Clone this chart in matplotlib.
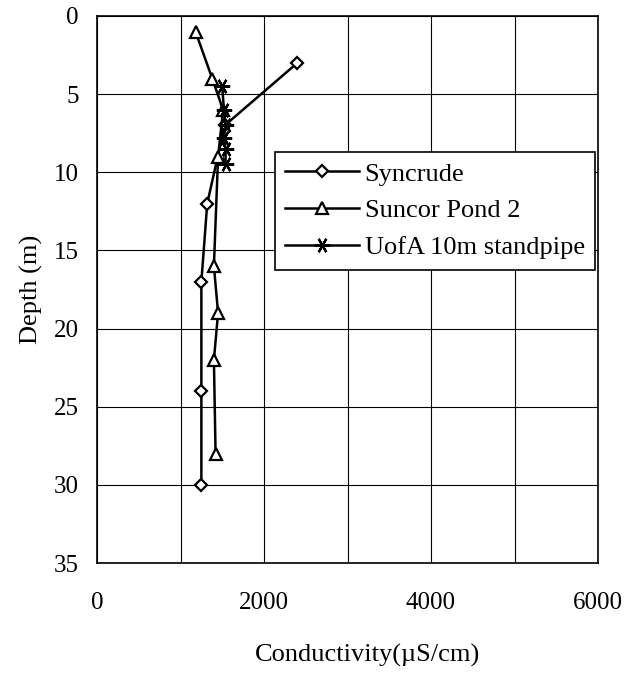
import matplotlib.pyplot as plt
import numpy as np

plt.rcParams['font.family'] = ['Liberation Serif', 'DejaVu Serif']

# conductivity profiles (uS/cm) against depth (m)
syncrude_depth = [3, 7, 12, 17, 24, 30]
syncrude_cond = [2400, 1530, 1320, 1250, 1250, 1250]

suncor_depth = [1, 4, 6, 9, 16, 19, 22, 28]
suncor_cond = [1180, 1380, 1510, 1450, 1400, 1450, 1400, 1420]

uofa_depth = [4.5, 6.0, 7.0, 7.8, 8.5, 9.5]
uofa_cond = [1500, 1520, 1540, 1520, 1540, 1540]

x_ticks = [0, 2000, 4000, 6000]
y_ticks = [0, 5, 10, 15, 20, 25, 30, 35]

fig = plt.figure(figsize=(6.28, 6.76), dpi=100)
ax = fig.add_axes([97 / 628, 1 - 563 / 676, 501 / 628, 547 / 676])

ax.plot(syncrude_cond, syncrude_depth, color='black', lw=1.8, marker='D',
        ms=6.5, mfc='white', mec='black', mew=1.6, label='Syncrude')
ax.plot(suncor_cond, suncor_depth, color='black', lw=1.8, marker='^',
        ms=9, mfc='white', mec='black', mew=1.6, label='Suncor Pond 2')
ax.plot(uofa_cond, uofa_depth, color='black', lw=1.8, marker=(6, 2, 90),
        ms=11, mec='black', mew=1.6, label='UofA 10m standpipe')

ax.set_xlim(0, 6000)
ax.set_ylim(35, 0)
ax.set_xticks(x_ticks)
ax.set_xticks(np.arange(0, 6001, 1000), minor=True)
ax.set_yticks(y_ticks)
ax.grid(True, which='both', color='black', lw=0.8)
ax.set_axisbelow(True)
ax.tick_params(axis='both', which='both', length=0, labelsize=18)
ax.tick_params(axis='x', pad=21)
ax.tick_params(axis='y', pad=13)
for s in ax.spines.values():
    s.set_linewidth(1.2)

ax.set_xlabel('Conductivity(\u00b5S/cm)', fontsize=19)
ax.xaxis.set_label_coords(0.54, -0.148)
ax.set_ylabel('Depth (m)', fontsize=19, labelpad=8)

leg = ax.legend(loc='upper left', bbox_to_anchor=(0.355, 0.752), fontsize=19,
                handlelength=2.8, fancybox=False, framealpha=1,
                borderaxespad=0, labelspacing=0.5, handletextpad=0.2,
                borderpad=0.4)
leg.get_frame().set_edgecolor('black')
leg.get_frame().set_linewidth(1.2)

fig.savefig('out.png', dpi=100)
